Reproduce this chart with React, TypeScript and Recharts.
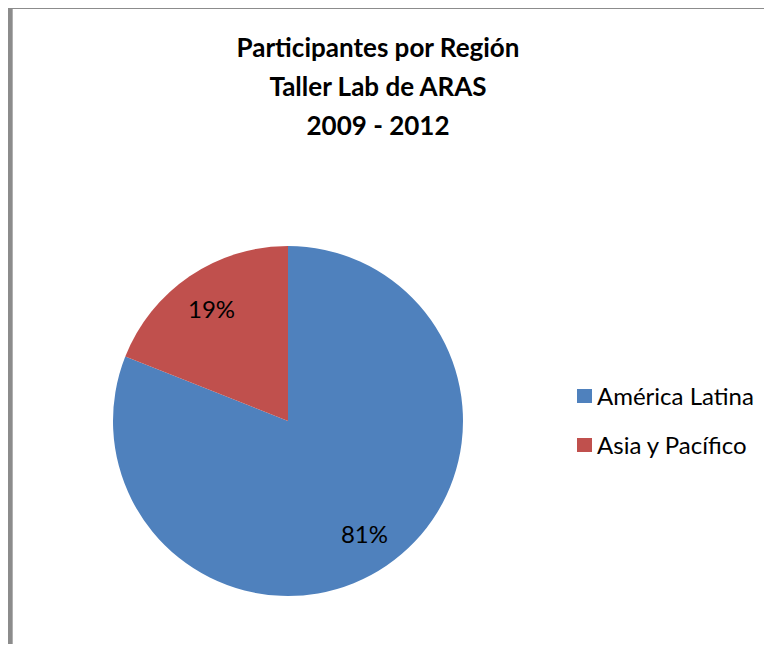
import { PieChart, Pie, Cell, Legend } from 'recharts';

const regions = ['América Latina', 'Asia y Pacífico'];
const shares = [81, 19];
const colors = ['#4F81BD', '#C0504D'];
const titleLines = ['Participantes por Región', 'Taller Lab de ARAS', '2009 - 2012'];

const data = regions.map((name, i) => ({ name, value: shares[i] }));

const RAD = Math.PI / 180;
const font = 'Lato, "Open Sans", sans-serif';

const renderLabel = (props: any) => {
  const { cx, cy, midAngle, percent } = props;
  const r = 136;
  const x = cx + r * Math.cos(-midAngle * RAD);
  const y = cy + r * Math.sin(-midAngle * RAD);
  return (
    <text x={x} y={y} textAnchor="middle" dominantBaseline="central" fill="#000" fontSize={24} fontFamily={font}>
      {`${Math.round(percent * 100)}%`}
    </text>
  );
};

const renderLegend = () => (
  <div style={{ fontFamily: font, fontSize: 24, color: '#000' }}>
    {regions.map((name, i) => (
      <div key={name} style={{ display: 'flex', alignItems: 'center', height: 49 }}>
        <span style={{ display: 'inline-block', width: 15, height: 14, background: colors[i], marginRight: 5 }} />
        <span>{name}</span>
      </div>
    ))}
  </div>
);

export default function App() {
  return (
    <div style={{ position: 'relative', width: 772, height: 652, margin: -8, background: '#fff', overflow: 'hidden' }}>
      <div style={{ position: 'absolute', left: 8, top: 6, width: 5, height: 646, background: '#8c8c8c', borderRight: '1px solid #b0b0b0', boxSizing: 'border-box' }} />
      <div style={{ position: 'absolute', left: 8, top: 6, width: 764, height: 3, background: '#8c8c8c' }} />
      <div style={{ position: 'absolute', left: 0, top: 28, width: 756, textAlign: 'center', fontFamily: font, fontWeight: 700, fontSize: 26, lineHeight: '39px', color: '#000' }}>
        {titleLines.map((t) => (
          <div key={t}>{t}</div>
        ))}
      </div>
      <PieChart width={772} height={652} margin={{ top: 0, right: 0, bottom: 0, left: 0 }} style={{ position: 'absolute', left: 0, top: 0 }}>
        <Pie
          data={data}
          dataKey="value"
          nameKey="name"
          cx={288}
          cy={421}
          outerRadius={175}
          startAngle={90}
          endAngle={-270}
          stroke="none"
          labelLine={false}
          label={renderLabel}
          isAnimationActive={false}
        >
          {data.map((d, i) => (
            <Cell key={d.name} fill={colors[i]} />
          ))}
        </Pie>
        <Legend content={renderLegend} layout="vertical" wrapperStyle={{ left: 577, top: 371, width: 195 }} />
      </PieChart>
    </div>
  );
}
